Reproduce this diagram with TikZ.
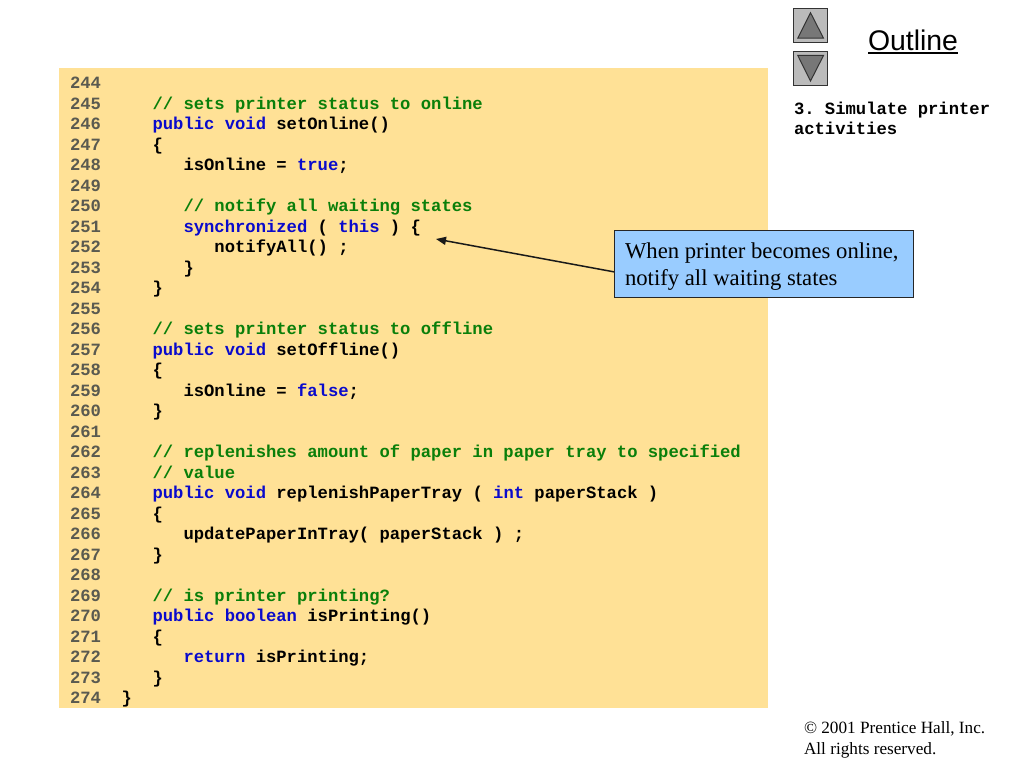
\documentclass[tikz,border=0pt]{standalone}
\usepackage{fontspec}
\setmainfont{Liberation Serif}
\setsansfont{Liberation Sans}
\setmonofont{Liberation Mono}
\usetikzlibrary{arrows.meta}
\definecolor{panelc}{HTML}{FFE196}
\definecolor{boxc}{HTML}{99CCFF}
\definecolor{cmtc}{HTML}{0A7F0A}
\definecolor{kwc}{HTML}{0A0ACC}
\definecolor{numc}{HTML}{5A5A50}
\definecolor{btnc}{HTML}{BBBBBB}
\definecolor{trgc}{HTML}{777777}
\definecolor{btnl}{HTML}{333333}
\newcommand{\cmt}[1]{\textcolor{cmtc}{#1}}
\newcommand{\kw}[1]{\textcolor{kwc}{#1}}
\newcommand{\ind}[1]{\hspace*{\dimexpr #1\dimexpr 10.32pt\relax\relax}}
\tikzset{
  txt/.style={inner sep=0pt,outer sep=0pt,anchor=base west,align=left},
  codeline/.style={txt,font=\ttfamily\bfseries\fontsize{17.2}{20.5}\selectfont,text=black},
  btn/.style={draw=btnl,fill=btnc,line width=1pt},
  trg/.style={draw=btnl,fill=trgc,line width=1pt,line join=miter},
}
\newcommand{\cl}[2]{%
  \pgfmathsetmacro{\yy}{88.5+20.5*(#1-244)}%
  \node[codeline] (l#1) at (70,\yy) {\textcolor{numc}{#1}\ind{2}#2};%
}
\begin{document}
\begin{tikzpicture}[x=1pt,y=-1pt]
\useasboundingbox (0,0) rectangle (1024,768);
\fill[white] (0,0) rectangle (1024,768);
\fill[panelc] (59,68) rectangle (768,708);
\cl{244}{}
\cl{245}{\ind{3}\cmt{// sets printer status to online}}
\cl{246}{\ind{3}\kw{public void} setOnline()}
\cl{247}{\ind{3}\{}
\cl{248}{\ind{6}isOnline = \kw{true};}
\cl{249}{}
\cl{250}{\ind{6}\cmt{// notify all waiting states}}
\cl{251}{\ind{6}\kw{synchronized} ( \kw{this} ) \{}
\cl{252}{\ind{9}notifyAll() ;}
\cl{253}{\ind{6}\}}
\cl{254}{\ind{3}\}}
\cl{255}{}
\cl{256}{\ind{3}\cmt{// sets printer status to offline}}
\cl{257}{\ind{3}\kw{public void} setOffline()}
\cl{258}{\ind{3}\{}
\cl{259}{\ind{6}isOnline = \kw{false};}
\cl{260}{\ind{3}\}}
\cl{261}{}
\cl{262}{\ind{3}\cmt{// replenishes amount of paper in paper tray to specified}}
\cl{263}{\ind{3}\cmt{// value}}
\cl{264}{\ind{3}\kw{public void} replenishPaperTray ( \kw{int} paperStack )}
\cl{265}{\ind{3}\{}
\cl{266}{\ind{6}updatePaperInTray( paperStack ) ;}
\cl{267}{\ind{3}\}}
\cl{268}{}
\cl{269}{\ind{3}\cmt{// is printer printing?}}
\cl{270}{\ind{3}\kw{public boolean} isPrinting()}
\cl{271}{\ind{3}\{}
\cl{272}{\ind{6}\kw{return} isPrinting;}
\cl{273}{\ind{3}\}}
\cl{274}{\}}
% callout
\node[draw=black!85,fill=boxc,line width=1pt,minimum width=299pt,minimum height=67pt,inner sep=0pt,anchor=north west] (box) at (614,230) {};
\node[txt,font=\rmfamily\fontsize{22.7}{27}\selectfont,text=black] (boxtxt) at (625,285) {When printer becomes online,\\notify all waiting states};
\coordinate (tip) at (436,239);
\draw[line width=1.5pt,black!90,-{Triangle[length=10pt,width=8pt]}] (box.183.4) -- (tip);
% nav buttons
\node[btn,minimum size=34pt,inner sep=0pt,anchor=north west] (up) at (793.3,8.3) {};
\node[btn,minimum size=34pt,inner sep=0pt,anchor=north west] (down) at (793.3,51) {};
\draw[trg] (810.5,12.7) -- (797.8,38.2) -- (823.5,38.2) -- cycle;
\draw[trg] (810.5,81) -- (797.8,55.5) -- (823.5,55.5) -- cycle;
% outline title
\node[txt,font=\sffamily\fontsize{28.4}{30}\selectfont,text=black] (outl) at (868,50) {Outline};
\draw[line width=1.6pt,black] ([yshift=-3.2pt]outl.base west) -- ([yshift=-3.2pt]outl.base east);
% side text
\node[codeline] (side) at (794,134.5) {3. Simulate printer\\activities};
% footer
\node[txt,font=\rmfamily\fontsize{17.2}{21}\selectfont,text=black] (foot) at (804,754) {© 2001 Prentice Hall, Inc.\\All rights reserved.};
\end{tikzpicture}
\end{document}
